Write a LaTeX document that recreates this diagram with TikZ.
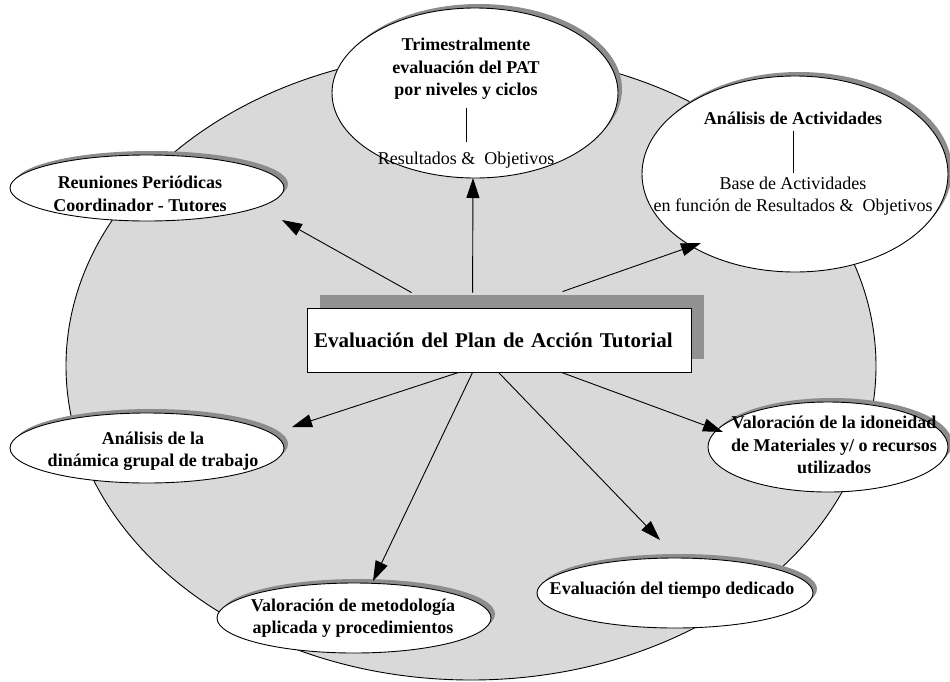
\documentclass[tikz,border=0pt]{standalone}
\usepackage{fontspec}
\setmainfont{Liberation Serif}
\usetikzlibrary{shapes.geometric,shadows,arrows.meta}
\begin{document}
\begin{tikzpicture}[
    x=1pt, y=-1pt,
    fondo/.style={ellipse, draw, fill=black!15, line width=0.9pt},
    burbuja/.style={ellipse, draw, fill=white, line width=0.9pt, inner sep=0pt,
        drop shadow={shadow xshift=4pt, shadow yshift=4pt, fill=black!45, opacity=1}},
    negrita/.style={align=center, inner sep=1pt, font=\fontsize{18}{22.5}\selectfont\bfseries},
    normal/.style={align=center, inner sep=1pt, font=\fontsize{18}{22.5}\selectfont},
    flecha/.style={line width=0.9pt, -{Triangle[length=20pt, width=13pt]}}
]
\useasboundingbox (0,0) rectangle (950,681);

% Fondo
\node[fondo, minimum width=810pt, minimum height=628pt] (fondo) at (471,366) {};

% Centro
\node[draw, fill=white, line width=0.9pt, minimum width=384pt, minimum height=64pt,
    text width=370pt, inner xsep=7pt, align=left, font=\fontsize{21}{25}\selectfont\bfseries,
    drop shadow={shadow xshift=13pt, shadow yshift=13pt, fill=black!43, opacity=1}]
    (pat) at (499,340) {Evaluación del Plan de Acción Tutorial};

% Arriba
\node[burbuja, minimum width=286pt, minimum height=170pt] (trim) at (475,93) {};
\node[negrita] (trimA) at (466,69) {Trimestralmente\\evaluación del PAT\\por niveles y ciclos};
\node[normal] (trimB) at (466,160) {Resultados \& \ Objetivos};
\draw[line width=0.9pt, shorten <=7.5pt, shorten >=8.5pt] (trimA) -- (trimB);

\node[burbuja, minimum width=306pt, minimum height=196pt] (act) at (795,174) {};
\node[negrita] (actA) at (793,118) {Análisis de Actividades};
\node[normal] (actB) at (793,196) {Base de Actividades\\en función de Resultados \& \ Objetivos};
\draw[line width=0.9pt, shorten <=5pt, shorten >=2.5pt] (actA) -- (actB);

\node[burbuja, minimum width=274pt, minimum height=66pt] (reu) at (147,188) {};
\node[negrita] (reuT) at (140,194) {Reuniones Periódicas\\Coordinador - Tutores};

% Abajo
\node[burbuja, minimum width=274pt, minimum height=70pt] (din) at (147,448) {};
\node[negrita] (dinT) at (153,451) {Análisis de la\\dinámica grupal de trabajo};

\node[burbuja, minimum width=240pt, minimum height=90pt] (ido) at (828,447) {};
\node[negrita] (idoT) at (834,445) {Valoración de la idoneidad\\de Materiales y/ o recursos\\utilizados};

\node[burbuja, minimum width=274pt, minimum height=70pt] (met) at (354,618) {};
\node[negrita] (metT) at (353,618) {Valoración de metodología\\aplicada y procedimientos};

\node[burbuja, minimum width=276pt, minimum height=70pt] (tie) at (675,593) {};
\node[negrita] (tieT) at (672,590) {Evaluación del tiempo dedicado};

% Puntas
\coordinate (pReu) at (282,220);
\coordinate (pTrim) at (473,178);
\coordinate (pAct) at (701,243);
\coordinate (pDin) at (292,427);
\coordinate (pMet) at (373,581);
\coordinate (pTie) at (660,540);
\coordinate (pIdo) at (723,432);

% Flechas
\draw[flecha] ([xshift=105pt, yshift=15pt]pat.north west) -- (pReu);
\draw[flecha] ([xshift=166pt, yshift=15pt]pat.north west) -- (pTrim);
\draw[flecha] ([xshift=256pt, yshift=16pt]pat.north west) -- (pAct);
\draw[flecha] ([xshift=152pt]pat.south west) -- (pDin);
\draw[flecha] ([xshift=166pt]pat.south west) -- (pMet);
\draw[flecha] ([xshift=192pt]pat.south west) -- (pTie);
\draw[flecha] ([xshift=255pt]pat.south west) -- (pIdo);
\end{tikzpicture}
\end{document}
